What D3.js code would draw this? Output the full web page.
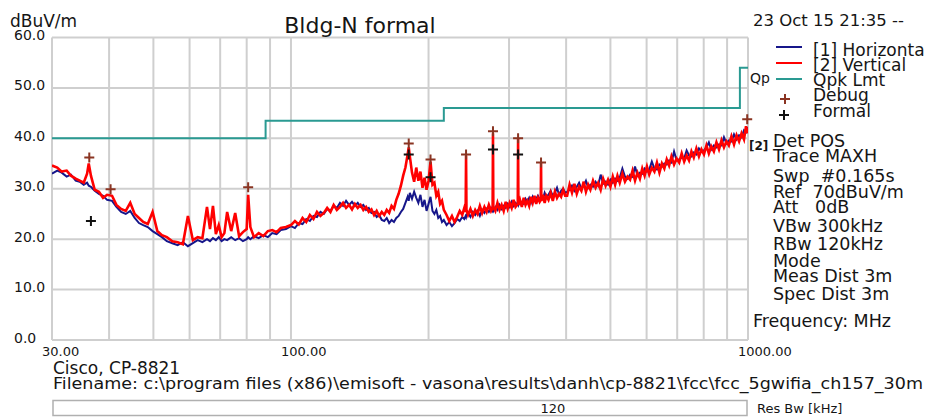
<!DOCTYPE html>
<html>
<head>
<meta charset="utf-8">
<title>Bldg-N formal</title>
<script src="https://cdnjs.cloudflare.com/ajax/libs/d3/7.8.5/d3.min.js"></script>
<style>
  body { margin: 0; background: #fff; overflow: hidden; }
  svg text { font-family: "DejaVu Sans", sans-serif; fill: #151515; white-space: pre; }
</style>
</head>
<body>
<svg id="chart" width="925" height="420"></svg>
<script>
// sweep points (MHz) shared by both traces
const freqMHz = [
  30, 30.8, 31.5, 32.3, 33, 33.8, 34.5, 35.2, 35.8, 36.1,
  36.5, 37.2, 38, 38.8, 39.6, 40.6, 41.5, 42.5, 43.5, 44.5,
  45.5, 46.5, 47.5, 48.6, 49.8, 51, 52.2, 53.5, 55, 56.5,
  58, 59.5, 61, 62.5, 64, 65.5, 66.5, 67.5, 68.5, 69.5,
  70.5, 71.5, 72.5, 74, 75.5, 77, 78.5, 80, 80.6, 81.5,
  83, 85, 87, 89, 91, 93, 95, 97.5,
  100, 102, 104, 106, 108, 110, 112, 114, 116, 118,
  120, 122, 124, 126, 128, 130, 132, 134, 136, 138,
  140, 142, 144, 146, 148, 150, 152, 154, 156, 158,
  160, 162, 164, 166, 168, 170,
  172, 174, 176, 178, 180, 181, 182, 184, 186, 188,
  190, 192, 194, 196, 198, 200, 202, 204, 206, 208,
  210, 212, 214, 216,
  219, 222, 225, 228, 231, 234, 237, 239.5, 241.1, 241.6,
  242.1, 244, 247, 250, 253, 256, 259, 262, 265, 268,
  271, 274, 276.2, 276.7, 277.2, 280, 283, 286, 289, 292,
  295, 298, 301, 304, 307, 310, 313.5, 314, 314.5, 317,
  320, 323, 326, 329, 332, 335, 338, 341, 344, 347,
  350, 352, 352.5, 353, 356, 359, 362, 366, 370, 374,
  378, 382, 386, 390, 394, 398,
  402, 407, 412, 417, 422, 427, 432, 437, 442, 447,
  452, 458, 464, 470, 476, 482, 488, 494, 500, 506,
  512, 518, 524, 531, 538, 545, 552, 559, 566, 573,
  580, 587, 594, 601, 608, 616, 624, 632, 640, 648,
  656, 664, 672, 680, 689, 698, 707, 716, 725, 734,
  743, 752, 761, 771, 781, 791, 801, 811, 821, 831,
  842, 853, 864, 875, 886, 897, 908, 920, 932, 944,
  956, 968, 980, 990, 1000
];

// [1] Horizontal, dBuV/m
const horizontalDb = [
  33.0, 33.6, 33.2, 32.4, 32.8, 31.6, 31.4, 30.8, 31.2, 30.6,
  30.4, 29.6, 29.0, 28.6, 27.8, 27.6, 26.4, 25.4, 25.0, 25.6,
  24.2, 23.2, 22.8, 22.4, 21.6, 21.0, 20.4, 19.6, 19.2, 18.8,
  19.4, 18.6, 19.2, 19.8, 19.4, 20.0, 19.6, 20.2, 19.8, 20.4,
  19.6, 20.0, 19.8, 20.4, 19.8, 20.2, 19.6, 20.0, 20.4, 20.0,
  20.6, 20.2, 20.8, 20.4, 21.2, 21.0, 21.8, 22.0,
  22.6, 22.2, 23.2, 23.0, 24.0, 23.6, 24.6, 24.4, 25.4, 25.0,
  26.0, 25.6, 26.6, 26.2, 27.2, 26.6, 27.6, 26.8, 27.4, 26.6,
  27.2, 26.4, 26.8, 25.8, 26.2, 25.2, 25.4, 24.4, 24.8, 23.8,
  23.6, 24.2, 23.2, 23.8, 23.4, 24.2,
  24.6, 25.4, 26.0, 27.2, 28.4, 27.6, 29.2, 28.0, 29.4, 28.2,
  27.2, 28.8, 26.4, 27.8, 25.6, 27.0, 28.4, 25.6, 25.0, 25.8,
  24.2, 24.6, 23.4, 23.8,
  22.8, 23.4, 22.6, 23.2, 24.0, 23.6, 24.4, 24.0, 24.6, 24.4,
  24.8, 25.2, 24.4, 25.4, 24.8, 25.6, 24.6, 25.8, 25.2, 26.0,
  25.4, 26.2, 25.6, 25.8, 25.6, 26.4, 25.8, 26.8, 26.0, 26.6,
  26.2, 27.0, 26.4, 27.4, 26.6, 27.2, 26.8, 27.0, 26.8, 27.6,
  27.2, 27.0, 28.0, 27.4, 28.2, 27.2, 28.4, 27.6, 28.0, 28.6,
  27.8, 28.2, 28.0, 28.4, 28.0, 29.2, 28.4, 28.8, 29.6, 28.6,
  29.2, 30.2, 28.8, 29.6, 30.0, 29.2,
  29.4, 29.8, 30.6, 29.6, 30.4, 31.2, 30.0, 30.6, 31.6, 30.2,
  30.8, 30.4, 31.4, 30.6, 32.8, 31.0, 31.4, 30.8, 31.8, 31.2,
  32.0, 31.6, 32.2, 34.0, 32.4, 32.0, 32.8, 32.4, 34.4, 32.6,
  33.2, 33.0, 34.0, 33.4, 33.8, 35.4, 34.0, 33.8, 34.8, 34.4,
  35.0, 34.8, 35.6, 35.2, 37.4, 35.6, 35.8, 36.2, 36.0, 37.6,
  36.6, 36.4, 37.2, 36.8, 38.0, 37.4, 37.6, 38.2, 39.2, 37.8,
  38.6, 38.2, 38.8, 38.6, 40.2, 39.0, 39.6, 39.4, 40.8, 39.8,
  40.6, 40.2, 41.6, 41.2, 42.2
];

// [2] Vertical, dBuV/m
const verticalDb = [
  34.6, 34.2, 33.4, 33.6, 32.6, 32.0, 31.6, 31.2, 33.0, 35.0,
  32.6, 29.8, 29.4, 28.2, 28.8, 28.6, 26.8, 26.0, 25.6, 27.2,
  25.0, 24.2, 23.4, 23.0, 25.4, 21.6, 20.8, 20.4, 19.6, 19.4,
  19.0, 24.6, 19.8, 20.4, 20.2, 26.4, 22.0, 26.6, 21.0, 22.8,
  20.4, 21.2, 25.4, 21.6, 25.2, 20.6, 21.4, 22.0, 28.8, 22.4,
  20.4, 21.2, 20.6, 21.6, 21.8, 21.4, 22.2, 22.4,
  22.8, 23.6, 22.9, 24.2, 23.4, 24.8, 24.0, 25.4, 24.6, 25.2,
  26.2, 25.4, 26.8, 25.8, 26.4, 27.2, 26.2, 26.8, 25.9, 27.0,
  26.2, 26.8, 25.8, 26.4, 25.4, 25.9, 24.8, 25.6, 24.6, 25.4,
  24.8, 25.8, 25.2, 26.6, 26.0, 27.8,
  29.0, 30.6, 32.6, 34.2, 36.8, 38.2, 36.4, 33.2, 31.4, 34.2,
  31.6, 33.4, 30.2, 32.2, 29.8, 31.6, 35.4, 30.8, 31.2, 28.6,
  29.4, 27.0, 27.6, 25.8,
  24.8, 23.6, 24.6, 23.4, 24.4, 25.6, 24.8, 26.2, 25.4, 36.6,
  25.8, 24.8, 26.0, 24.6, 25.8, 25.0, 26.6, 25.2, 26.4, 25.4,
  26.8, 25.6, 26.2, 41.0, 26.4, 25.6, 27.2, 25.8, 26.8, 25.6,
  27.4, 26.0, 27.2, 26.2, 27.8, 26.4, 27.0, 40.0, 26.8, 27.8,
  26.4, 28.2, 26.8, 27.6, 26.6, 28.4, 27.2, 28.6, 27.0, 28.2,
  27.4, 27.8, 35.2, 27.6, 28.8, 27.2, 28.6, 27.8, 29.2, 27.6,
  29.4, 28.2, 29.0, 28.4, 29.8, 28.6,
  28.6, 30.8, 29.2, 31.0, 29.0, 30.4, 29.6, 31.4, 29.4, 30.8,
  29.8, 31.6, 30.2, 31.2, 29.8, 32.0, 30.6, 31.8, 30.4, 32.4,
  30.8, 32.6, 31.2, 33.0, 31.4, 32.4, 31.8, 33.6, 31.6, 33.2,
  32.0, 34.0, 32.6, 34.4, 32.8, 34.2, 33.4, 35.2, 33.2, 35.0,
  34.0, 35.8, 34.6, 36.4, 34.8, 36.0, 35.2, 37.0, 35.4, 36.6,
  35.6, 37.4, 36.2, 38.0, 36.4, 37.8, 36.8, 38.6, 37.0, 38.4,
  37.4, 39.2, 37.8, 39.6, 38.2, 39.4, 38.6, 40.4, 38.8, 40.6,
  39.4, 41.0, 39.8, 42.4, 41.0
];

// Qpk limit (step after each breakpoint)
const limitFreq = [30, 88, 216, 960, 1000];
const limitDb = [40, 43.5, 46, 54, 54];

// peak markers
const debugFreq = [36.2, 40.3, 80.6, 181, 202, 241.6, 276.7, 314, 352.5, 996];
const debugDb = [36.2, 29.9, 30.3, 39.0, 35.8, 36.8, 41.4, 40.0, 35.2, 43.8];
const formalFreq = [36.5, 181, 202, 276.7, 314];
const formalDb = [23.6, 36.8, 32.3, 37.8, 36.8];

const yTicks = [0, 10, 20, 30, 40, 50, 60];
const xGrid = [30, 40, 50, 60, 70, 80, 90, 100, 200, 300, 400, 500, 600, 700, 800, 900, 1000];
const xLabels = [30, 100, 1000];

const legendNames = ["[1] Horizontal", "[2] Vertical", "Qpk Lmt", "Debug", "Formal"];
const infoLines = ["Det POS", "Trace MAXH", "Swp  #0.165s", "Ref  70dBuV/m", "Att   0dB",
  "VBw 300kHz", "RBw 120kHz", "Mode", "Meas Dist 3m", "Spec Dist 3m"];

const colH = "#16168a", colV = "#ff0000", colLim = "#2a9a92",
      colDebug = "#8a3422", colFormal = "#111", colGrid = "#cfcfcf";

const svg = d3.select("#chart");
const plotL = 52, plotR = 748, plotT = 37.5, plotB = 340;

const x = d3.scaleLog().domain([30, 1000]).range([plotL, plotR]);
const y = d3.scaleLinear().domain([0, 60]).range([plotB, plotT]);

// grid
const grid = svg.append("g").attr("stroke", colGrid).attr("stroke-width", 2);
grid.selectAll("line.v").data(xGrid).join("line")
  .attr("class", "v")
  .attr("x1", d => x(d)).attr("x2", d => x(d))
  .attr("y1", plotT).attr("y2", plotB);
grid.selectAll("line.h").data(yTicks).join("line")
  .attr("class", "h")
  .attr("x1", plotL).attr("x2", plotR)
  .attr("y1", d => y(d)).attr("y2", d => y(d));

// tick labels
svg.append("g").selectAll("text").data(yTicks).join("text")
  .attr("x", 14).attr("y", d => y(d) - 2.5)
  .attr("dominant-baseline", "central")
  .style("font-size", "14px")
  .text(d => d.toFixed(1));

svg.append("g").selectAll("text").data(xLabels).join("text")
  .attr("x", d => x(d) - 10).attr("y", 356)
  .style("font-size", "13px")
  .text(d => d.toFixed(2));

svg.append("text").attr("x", 10).attr("y", 27).style("font-size", "17px").text("dBuV/m");
svg.append("text").attr("x", 360).attr("y", 33).attr("text-anchor", "middle")
  .style("font-size", "22px").text("Bldg-N formal");
svg.append("text").attr("x", 753).attr("y", 26).style("font-size", "16.5px").text("23 Oct 15 21:35 --");

// traces
svg.append("clipPath").attr("id", "plotClip").append("rect")
  .attr("x", plotL).attr("y", plotT).attr("width", plotR - plotL).attr("height", plotB - plotT);
const plot = svg.append("g").attr("clip-path", "url(#plotClip)");

const line = d3.line().x(d => x(d[0])).y(d => y(d[1]));
const stepLine = d3.line().x(d => x(d[0])).y(d => y(d[1])).curve(d3.curveStepAfter);

plot.append("path")
  .attr("d", stepLine(limitFreq.map((f, i) => [f, limitDb[i]])))
  .attr("fill", "none").attr("stroke", colLim).attr("stroke-width", 2);

plot.append("path")
  .attr("d", line(freqMHz.map((f, i) => [f, horizontalDb[i]])))
  .attr("fill", "none").attr("stroke", colH).attr("stroke-width", 2);
plot.append("path")
  .attr("d", line(freqMHz.map((f, i) => [f, verticalDb[i]])))
  .attr("fill", "none").attr("stroke", colV).attr("stroke-width", 2.6);

function plus(g, cx, cy, color) {
  g.append("path")
    .attr("d", `M${cx - 5},${cy}H${cx + 5}M${cx},${cy - 5}V${cy + 5}`)
    .attr("stroke", color).attr("stroke-width", 2);
}
const marks = svg.append("g");
debugFreq.forEach((f, i) => plus(marks, x(f), y(debugDb[i]), colDebug));
formalFreq.forEach((f, i) => plus(marks, x(f), y(formalDb[i]), colFormal));

// legend
const legendBase = [56, 71, 86, 101, 117];
const legendLine = [47, 63, 79];
[colH, colV, colLim].forEach((c, i) => {
  svg.append("line").attr("x1", 776).attr("x2", 802)
    .attr("y1", legendLine[i]).attr("y2", legendLine[i])
    .attr("stroke", c).attr("stroke-width", 2);
});
plus(svg, 785, 99, colDebug);
plus(svg, 784, 115, colFormal);
svg.append("g").selectAll("text").data(legendNames).join("text")
  .attr("x", 813).attr("y", (d, i) => legendBase[i])
  .style("font-size", "17px").text(d => d);
svg.append("text").attr("x", 750).attr("y", 83).style("font-size", "14px").text("Qp");

// settings block
const infoBase = [147, 162, 182, 198, 213, 232, 250, 267, 282, 300];
svg.append("text").attr("x", 749).attr("y", 150).style("font-size", "12px")
  .style("font-weight", "bold").text("[2]");
svg.append("g").selectAll("text").data(infoLines).join("text")
  .attr("x", 773).attr("y", (d, i) => infoBase[i])
  .style("font-size", "17.5px").text(d => d);
svg.append("text").attr("x", 753).attr("y", 327).style("font-size", "17.5px").text("Frequency: MHz");

// footer
svg.append("text").attr("x", 53).attr("y", 374).style("font-size", "17px").text("Cisco, CP-8821");
svg.append("text").attr("x", 53).attr("y", 389).style("font-size", "16.5px")
  .attr("textLength", 870).attr("lengthAdjust", "spacingAndGlyphs")
  .text("Filename: c:\\program files (x86)\\emisoft - vasona\\results\\danh\\cp-8821\\fcc\\fcc_5gwifia_ch157_30m");
svg.append("rect").attr("x", 53).attr("y", 400.5).attr("width", 694).attr("height", 15)
  .attr("fill", "#fff").attr("stroke", "#b0b0b0").attr("stroke-width", 1.5);
svg.append("text").attr("x", 553).attr("y", 408.5).attr("text-anchor", "middle")
  .attr("dominant-baseline", "central").style("font-size", "13px").text("120");
svg.append("text").attr("x", 757).attr("y", 413).style("font-size", "13px").text("Res Bw [kHz]");
</script>
</body>
</html>
